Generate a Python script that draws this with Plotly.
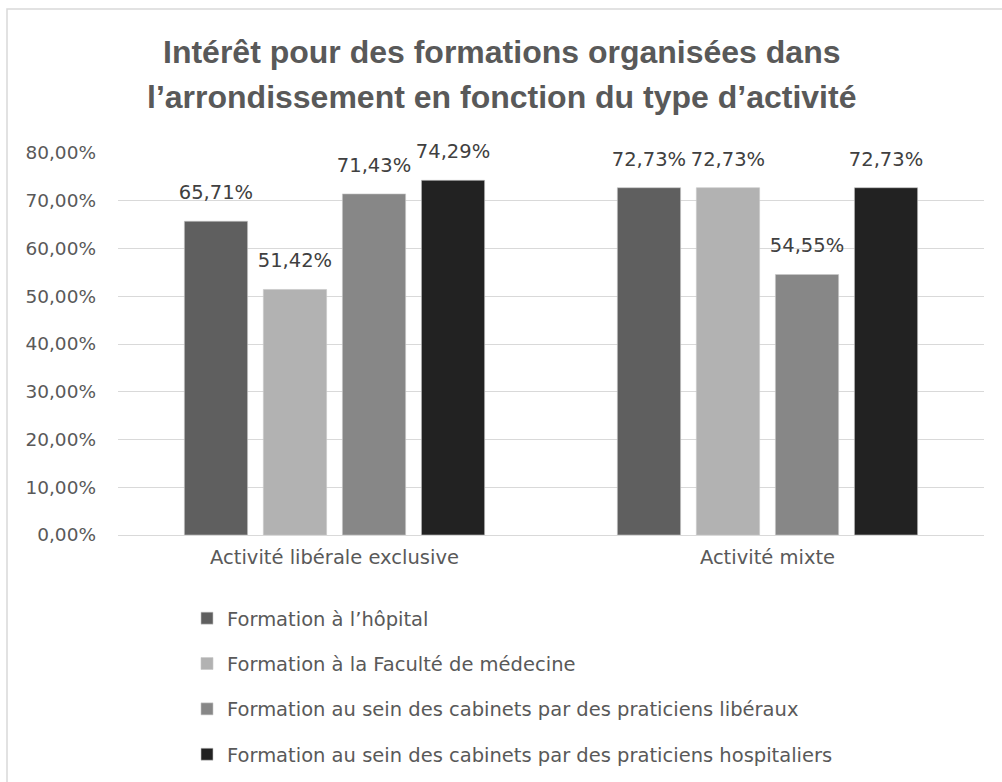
import plotly.graph_objects as go

categories = ["Activité libérale exclusive", "Activité mixte"]
series_names = [
    "Formation à l’hôpital",
    "Formation à la Faculté de médecine",
    "Formation au sein des cabinets par des praticiens libéraux",
    "Formation au sein des cabinets par des praticiens hospitaliers",
]
series_values = [
    [0.6571, 0.7273],
    [0.5142, 0.7273],
    [0.7143, 0.5455],
    [0.7429, 0.7273],
]
colors = ["#5f5f5f", "#b2b2b2", "#878787", "#222222"]
y_ticks = [0, 0.1, 0.2, 0.3, 0.4, 0.5, 0.6, 0.7, 0.8]
title_lines = [
    "Intérêt pour des formations organisées dans",
    "l’arrondissement en fonction du type d’activité",
]

FONT = "DejaVu Sans, Liberation Sans, Arial, sans-serif"
TFONT = "Liberation Sans, Arial, sans-serif"

W, H = 1002, 782
ml, mr, mt, mb = 118, 18, 153, 247
pw, ph = W - ml - mr, H - mt - mb
BARGAP = 0.27

fig = go.Figure()
for i, (name, vals) in enumerate(zip(series_names, series_values)):
    fig.add_trace(go.Bar(
        x=categories, y=vals, name=name,
        marker=dict(color=colors[i], line=dict(color="#c8c8c8", width=0.6)),
        legendgroup=f"g{i}",
    ))
for i, vals in enumerate(series_values):
    fig.add_trace(go.Scatter(
        x=categories, y=vals, mode="markers+text",
        marker=dict(size=26, opacity=0, color=colors[i]),
        text=[f"{v*100:.2f}%".replace(".", ",") for v in vals],
        textposition="top center",
        textfont=dict(size=19.5, color="#404040", family=FONT),
        cliponaxis=False, showlegend=False, hoverinfo="skip",
    ))

annotations = []
for k, line in enumerate(title_lines):
    yc = [52, 97][k]
    annotations.append(dict(
        text=f"<b>{line}</b>", xref="paper", yref="paper",
        x=(501 - ml) / pw, xanchor="center",
        y=(H - mb - yc) / ph, yanchor="middle", showarrow=False,
        font=dict(size=32, color="#595959", family=TFONT),
    ))

fig.update_layout(
    width=W, height=H,
    margin=dict(l=ml, r=mr, t=mt, b=mb, autoexpand=False),
    paper_bgcolor="white", plot_bgcolor="white",
    separators=", ",
    barmode="group", bargap=BARGAP, bargroupgap=0.2,
    scattermode="group", scattergap=BARGAP,
    font=dict(family=FONT, color="#595959", size=19),
    annotations=annotations,
    xaxis=dict(showgrid=False, showline=False, ticks="", ticklabelstandoff=8,
               tickfont=dict(size=19.5, color="#595959")),
    yaxis=dict(range=[0, 0.8], tickvals=y_ticks, tickformat=".2%",
               showgrid=True, gridcolor="#d9d9d9", gridwidth=1,
               zeroline=True, zerolinecolor="#d9d9d9", zerolinewidth=1,
               showline=False, ticks="", ticklabelstandoff=21,
               tickfont=dict(size=18.5, color="#595959")),
    legend=dict(
        orientation="v", x=(187 - ml) / pw, xanchor="left",
        y=(H - mb - 599) / ph, yanchor="top",
        font=dict(size=19.5, color="#595959", family=FONT),
        tracegroupgap=17, traceorder="grouped",
    ),
    showlegend=True,
    shapes=[dict(type="rect", xref="paper", yref="paper",
                 x0=(7 - ml) / pw, x1=1.2, y0=-1.0, y1=(H - mb - 9) / ph,
                 line=dict(color="#d9d9d9", width=1.5), fillcolor="rgba(0,0,0,0)", layer="below")],
)

fig.write_html("out.html", config={"displayModeBar": False},
               post_script="document.body.style.margin='0px';document.body.style.overflow='hidden';")
